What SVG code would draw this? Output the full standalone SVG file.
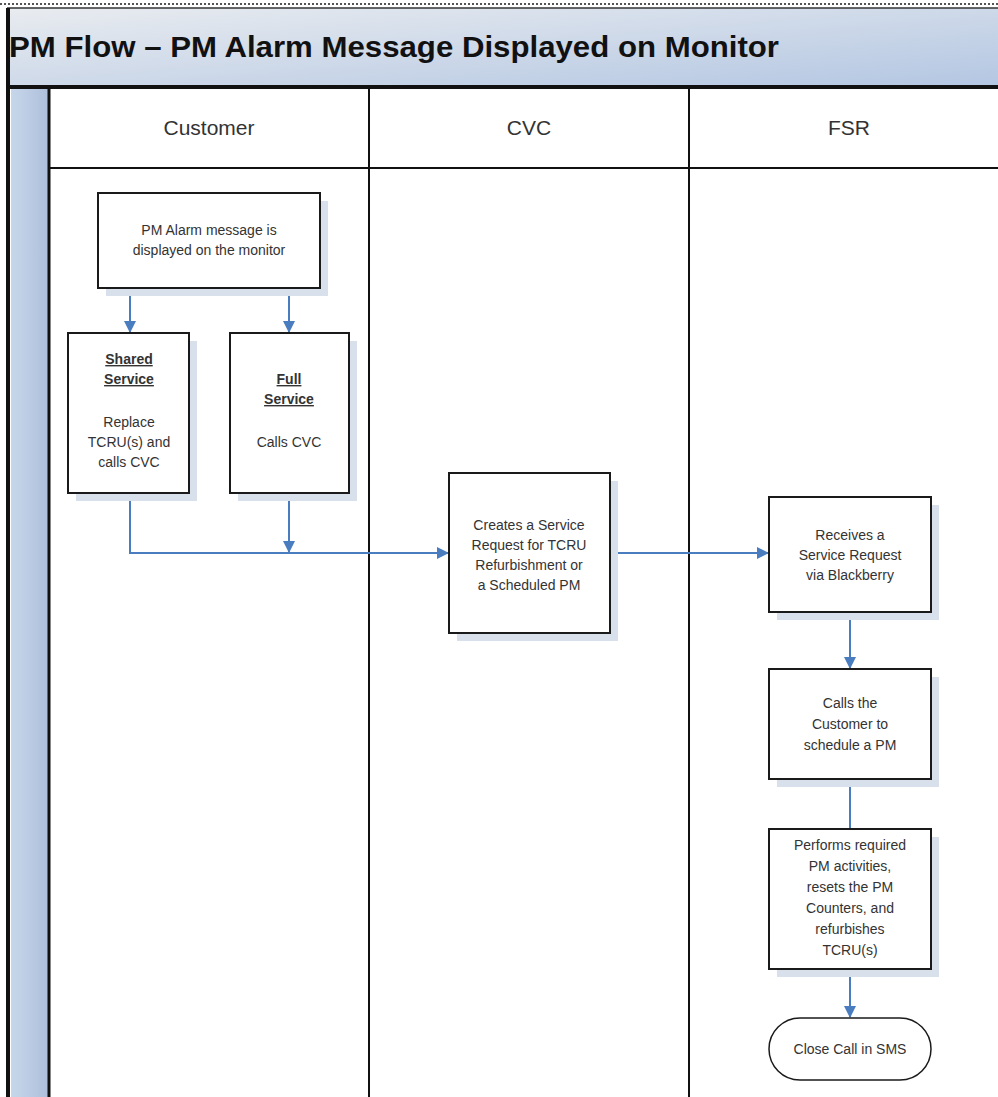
<svg xmlns="http://www.w3.org/2000/svg" width="998" height="1097" viewBox="0 0 998 1097">
<defs>
<linearGradient id="tg" x1="0" y1="0" x2="1" y2="1">
<stop offset="0" stop-color="#e9ecf0"/>
<stop offset="1" stop-color="#b3c6e2"/>
</linearGradient>
<linearGradient id="lg" x1="0" y1="0" x2="1" y2="0">
<stop offset="0" stop-color="#c7d7ea"/>
<stop offset="1" stop-color="#aebfdc"/>
</linearGradient>
<marker id="ah" markerWidth="12" markerHeight="12" refX="11" refY="6" orient="auto" markerUnits="userSpaceOnUse">
<path d="M0,0 L12,6 L0,12 Z" fill="#4a7cc0"/>
</marker>
<style>
.box{fill:#fff;stroke:#1a1a1a;stroke-width:2}
.sh{fill:#d8e0ec}
.t{font-family:"Liberation Sans",Arial,sans-serif;font-size:14px;fill:#333;text-anchor:middle}
.u{text-decoration:underline;font-weight:bold}
.h{font-family:"Liberation Sans",Arial,sans-serif;font-size:21px;fill:#333;text-anchor:middle}
.c{fill:none;stroke:#4a7cc0;stroke-width:2}
.ln{stroke:#111;stroke-width:2}
</style>
</defs>
<rect width="998" height="1097" fill="#fff"/>
<line x1="0" y1="4" x2="998" y2="4" stroke="#555" stroke-width="2" stroke-dasharray="2,2"/>
<g id="title">
<rect x="7" y="8" width="991" height="79" fill="url(#tg)"/>
<line x1="7" y1="8" x2="998" y2="8" stroke="#333" stroke-width="1.5"/>
<text x="9" y="57" font-family="'Liberation Sans',Arial,sans-serif" font-weight="bold" font-size="29" fill="#111" textLength="770" lengthAdjust="spacingAndGlyphs">PM Flow – PM Alarm Message Displayed on Monitor</text>
</g>
<g id="frame">
<rect x="11" y="88" width="37" height="1009" fill="url(#lg)"/>
<line x1="8" y1="8" x2="8" y2="1097" stroke="#111" stroke-width="4"/>
<line x1="7" y1="87" x2="998" y2="87" stroke="#111" stroke-width="4"/>
<line x1="49" y1="88" x2="49" y2="1097" stroke="#111" stroke-width="3"/>
<line x1="369" y1="88" x2="369" y2="1097" class="ln"/>
<line x1="689" y1="88" x2="689" y2="1097" class="ln"/>
<line x1="49" y1="168" x2="998" y2="168" class="ln"/>
</g>
<g id="lane-customer"><text class="h" x="209" y="135">Customer</text></g>
<g id="lane-cvc"><text class="h" x="529" y="135">CVC</text></g>
<g id="lane-fsr"><text class="h" x="849" y="135">FSR</text></g>
<g id="connectors">
<line class="c" x1="130" y1="289" x2="130" y2="332" marker-end="url(#ah)"/>
<line class="c" x1="289" y1="289" x2="289" y2="332" marker-end="url(#ah)"/>
<polyline class="c" points="130,493 130,553 448,553" marker-end="url(#ah)"/>
<line class="c" x1="289" y1="493" x2="289" y2="552" marker-end="url(#ah)"/>
<line class="c" x1="610" y1="553" x2="768" y2="553" marker-end="url(#ah)"/>
<line class="c" x1="850" y1="612" x2="850" y2="668" marker-end="url(#ah)"/>
<line class="c" x1="850" y1="779" x2="850" y2="829"/>
<line class="c" x1="850" y1="969" x2="850" y2="1017" marker-end="url(#ah)"/>
</g>
<g id="n-alarm">
<rect class="sh" x="106" y="201" width="222" height="95"/>
<rect class="box" x="98" y="193" width="222" height="95"/>
<text class="t" x="209" y="235">PM Alarm message is</text>
<text class="t" x="209" y="255">displayed on the monitor</text>
</g>
<g id="n-shared">
<rect class="sh" x="76" y="341" width="121" height="160"/>
<rect class="box" x="68" y="333" width="121" height="160"/>
<text class="t u" x="129" y="364">Shared</text>
<text class="t u" x="129" y="384">Service</text>
<text class="t" x="129" y="427">Replace</text>
<text class="t" x="129" y="447">TCRU(s) and</text>
<text class="t" x="129" y="467">calls CVC</text>
</g>
<g id="n-full">
<rect class="sh" x="238" y="341" width="119" height="160"/>
<rect class="box" x="230" y="333" width="119" height="160"/>
<text class="t u" x="289" y="384">Full</text>
<text class="t u" x="289" y="404">Service</text>
<text class="t" x="289" y="447">Calls CVC</text>
</g>
<g id="n-cvc">
<rect class="sh" x="457" y="481" width="161" height="160"/>
<rect class="box" x="449" y="473" width="161" height="160"/>
<text class="t" x="529" y="530">Creates a Service</text>
<text class="t" x="529" y="550">Request for TCRU</text>
<text class="t" x="529" y="570">Refurbishment or</text>
<text class="t" x="529" y="590">a Scheduled PM</text>
</g>
<g id="n-receive">
<rect class="sh" x="777" y="505" width="162" height="115"/>
<rect class="box" x="769" y="497" width="162" height="115"/>
<text class="t" x="850" y="540">Receives a</text>
<text class="t" x="850" y="560">Service Request</text>
<text class="t" x="850" y="580">via Blackberry</text>
</g>
<g id="n-calls">
<rect class="sh" x="777" y="677" width="162" height="110"/>
<rect class="box" x="769" y="669" width="162" height="110"/>
<text class="t" x="850" y="708">Calls the</text>
<text class="t" x="850" y="729">Customer to</text>
<text class="t" x="850" y="750">schedule a PM</text>
</g>
<g id="n-perform">
<rect class="sh" x="777" y="837" width="162" height="140"/>
<rect class="box" x="769" y="829" width="162" height="140"/>
<text class="t" x="850" y="850">Performs required</text>
<text class="t" x="850" y="871">PM activities,</text>
<text class="t" x="850" y="892">resets the PM</text>
<text class="t" x="850" y="913">Counters, and</text>
<text class="t" x="850" y="934">refurbishes</text>
<text class="t" x="850" y="955">TCRU(s)</text>
</g>
<g id="n-close">
<rect x="769" y="1018" width="162" height="62" rx="31" ry="31" fill="#fff" stroke="#1a1a1a" stroke-width="1.5"/>
<text class="t" x="850" y="1054">Close Call in SMS</text>
</g>
</svg>
